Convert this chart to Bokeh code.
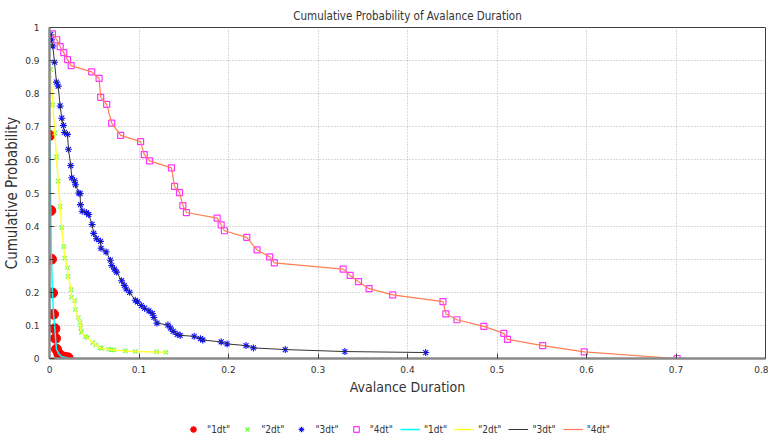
from bokeh.plotting import figure
from bokeh.layouts import column
from bokeh.models import Range1d, Legend, LegendItem, SingleIntervalTicker
from bokeh.embed import file_html
from bokeh.resources import INLINE

# ---- data ----
d1_x = [0.0003, 0.0014, 0.0022, 0.0033, 0.0045, 0.0060, 0.0067, 0.0078, 0.0104, 0.0134, 0.0170, 0.0208]
d1_y = [0.674, 0.447, 0.300, 0.198, 0.134, 0.090, 0.061, 0.028, 0.014, 0.006, 0.004, 0.002]

d2_x = [0.0014, 0.0037, 0.0059, 0.0078, 0.0097, 0.0119, 0.0137, 0.0159, 0.0171, 0.0201, 0.0208,
        0.0242, 0.0245, 0.0282, 0.0290, 0.0323, 0.0342, 0.0349, 0.0357, 0.0401, 0.0424, 0.0483,
        0.0516, 0.0565, 0.0580, 0.0661, 0.0691, 0.0717, 0.0847, 0.0959, 0.1196, 0.1301]
d2_y = [0.873, 0.766, 0.681, 0.610, 0.536, 0.459, 0.396, 0.338, 0.303, 0.274, 0.248,
        0.208, 0.185, 0.175, 0.148, 0.124, 0.109, 0.092, 0.079, 0.066, 0.063, 0.048,
        0.041, 0.033, 0.030, 0.028, 0.026, 0.026, 0.023, 0.021, 0.020, 0.019]

d3_x = [0.0014, 0.0022, 0.0037, 0.0056, 0.0078, 0.0097, 0.0119, 0.0137, 0.0156, 0.0167, 0.0201,
        0.0212, 0.0237, 0.0249, 0.0279, 0.0290, 0.0327, 0.0342, 0.0346, 0.0365, 0.0412, 0.0438,
        0.0476, 0.0494, 0.0524, 0.0569, 0.0576, 0.0632, 0.0680, 0.0695, 0.0725, 0.0750, 0.0806,
        0.0836, 0.0858, 0.0895, 0.0959, 0.0984, 0.1026, 0.1062, 0.1111, 0.1148, 0.1167, 0.1201,
        0.1323, 0.1352, 0.1382, 0.1427, 0.1460, 0.1617, 0.1687, 0.1713, 0.1918, 0.1984, 0.2196,
        0.2278, 0.2634, 0.3300, 0.4203]
d3_y = [0.979, 0.963, 0.944, 0.895, 0.835, 0.823, 0.763, 0.726, 0.704, 0.683, 0.677,
        0.632, 0.583, 0.546, 0.537, 0.525, 0.500, 0.498, 0.465, 0.445, 0.441, 0.435,
        0.405, 0.378, 0.362, 0.354, 0.333, 0.322, 0.297, 0.281, 0.270, 0.261, 0.235,
        0.221, 0.210, 0.200, 0.176, 0.171, 0.160, 0.152, 0.144, 0.136, 0.124, 0.107,
        0.101, 0.092, 0.082, 0.073, 0.070, 0.067, 0.060, 0.056, 0.050, 0.044, 0.039,
        0.032, 0.027, 0.021, 0.018]

d4_x = [0.0033, 0.0081, 0.0119, 0.0159, 0.0201, 0.0242, 0.0472, 0.0554, 0.0572, 0.0639, 0.0695,
        0.0795, 0.1018, 0.1059, 0.1118, 0.1363, 0.1397, 0.1453, 0.1490, 0.1530, 0.1873, 0.1918,
        0.1954, 0.2204, 0.2319, 0.2460, 0.2512, 0.3281, 0.3359, 0.3453, 0.3571, 0.3835, 0.4396,
        0.4429, 0.4552, 0.4853, 0.5076, 0.5117, 0.5510, 0.5975, 0.7012]
d4_y = [0.981, 0.963, 0.942, 0.924, 0.903, 0.885, 0.866, 0.846, 0.789, 0.768, 0.711,
        0.674, 0.655, 0.616, 0.597, 0.576, 0.520, 0.501, 0.462, 0.441, 0.424, 0.404,
        0.386, 0.366, 0.328, 0.307, 0.289, 0.270, 0.251, 0.232, 0.211, 0.192, 0.172,
        0.135, 0.117, 0.097, 0.076, 0.058, 0.039, 0.020, 0.000]

labels = ['"1dt"', '"2dt"', '"3dt"', '"4dt"']
title_text = "Cumulative Probability of Avalance Duration"
x_label = "Avalance Duration"
y_label = "Cumulative Probability"

COND = "DejaVu Sans Condensed, Liberation Sans, sans-serif"

marker_styles = [
    dict(marker="circle", size=10, fill_color="#ff0000", line_color="#ff0000"),
    dict(marker="x", size=6, line_color="#66ff33", line_width=1.2),
    dict(marker="asterisk", size=7, line_color="#1010ff", line_width=1.1),
    dict(marker="square", size=6, fill_color=None, line_color="#ff33ff", line_width=1.2),
]
line_styles = [
    dict(line_color="#00ffff", line_width=1.5),
    dict(line_color="#ffff33", line_width=1.5),
    dict(line_color="#333333", line_width=1),
    dict(line_color="#ff7f50", line_width=1.2),
]

P_H = 397
p = figure(width=768, height=P_H, output_backend="svg", toolbar_location=None,
           x_range=Range1d(0, 0.8), y_range=Range1d(0, 1),
           min_border_left=48, min_border_right=3, min_border_top=27, min_border_bottom=39,
           title=title_text)
p.title.align = "center"
p.title.text_font = COND
p.title.text_font_size = "11.5px"
p.title.text_font_style = "normal"
p.title.text_color = "#333333"
p.title.offset = 0
p.title.standoff = 9

p.outline_line_color = "#404040"
p.outline_line_width = 1
p.background_fill_color = "white"
p.border_fill_color = "white"

for ax in (p.xaxis[0], p.yaxis[0]):
    ax.ticker = SingleIntervalTicker(interval=0.1)
    ax.axis_line_color = "#8a8a8a"
    ax.axis_line_width = 2.5
    ax.major_tick_in = 5
    ax.major_tick_out = 0
    ax.major_tick_line_color = "#404040"
    ax.minor_tick_line_color = None
    ax.major_label_text_font = "DejaVu Sans"
    ax.major_label_text_font_size = "9px"
    ax.major_label_text_color = "#333333"
    ax.axis_label_text_font = COND
    ax.axis_label_text_font_style = "normal"
    ax.axis_label_text_color = "#333333"

p.xaxis[0].axis_label = x_label
p.xaxis[0].axis_label_text_font_size = "14px"
p.xaxis[0].major_label_standoff = 3
p.xaxis[0].axis_label_standoff = 3
p.yaxis[0].axis_label = y_label
p.yaxis[0].axis_label_text_font_size = "15px"
p.yaxis[0].major_label_standoff = 6
p.yaxis[0].axis_label_standoff = 1
p.xaxis[0].major_label_overrides = {0: "0"}
p.yaxis[0].major_label_overrides = {0: "0", 1: "1"}

for g in (p.xgrid[0], p.ygrid[0]):
    g.ticker = SingleIntervalTicker(interval=0.1)
    g.grid_line_color = "#b4b4b4"
    g.grid_line_dash = "1 2"
    g.grid_line_width = 1

xs = [d1_x, d2_x, d3_x, d4_x]
ys = [d1_y, d2_y, d3_y, d4_y]
for x, y, st in zip(xs, ys, marker_styles):
    p.scatter(x, y, **st)
for x, y, st in zip(xs, ys, line_styles):
    p.line(x, y, **st)

# legend strip below the chart (gnuplot-style key at the bottom);
# its renderers hold the same data, kept outside the strip's visible range
Q_H = 441 - P_H
q = figure(width=768, height=Q_H, output_backend="svg", toolbar_location=None,
           x_range=Range1d(5, 6), y_range=Range1d(5, 6),
           x_axis_location=None, y_axis_location=None, min_border=0)
q.grid.visible = False
q.outline_line_color = None
q.background_fill_color = "white"
q.border_fill_color = "white"
lm = [q.scatter(x, y, **st) for x, y, st in zip(xs, ys, marker_styles)]
ll = [q.line(x, y, **st) for x, y, st in zip(xs, ys, line_styles)]
items = [LegendItem(label=labels[i], renderers=[r]) for i, r in enumerate(lm)]
items += [LegendItem(label=labels[i], renderers=[r]) for i, r in enumerate(ll)]
legend = Legend(items=items, orientation="horizontal", location=(134, 5),
                glyph_width=20, glyph_height=14, label_standoff=4, spacing=7,
                padding=3, margin=0, border_line_color=None, background_fill_alpha=0,
                label_text_font=COND, label_text_font_size="10px", label_text_color="#333333")
q.add_layout(legend, "center")

layout = column(p, q, spacing=0)
open("out.html", "w").write(file_html(layout, INLINE))
